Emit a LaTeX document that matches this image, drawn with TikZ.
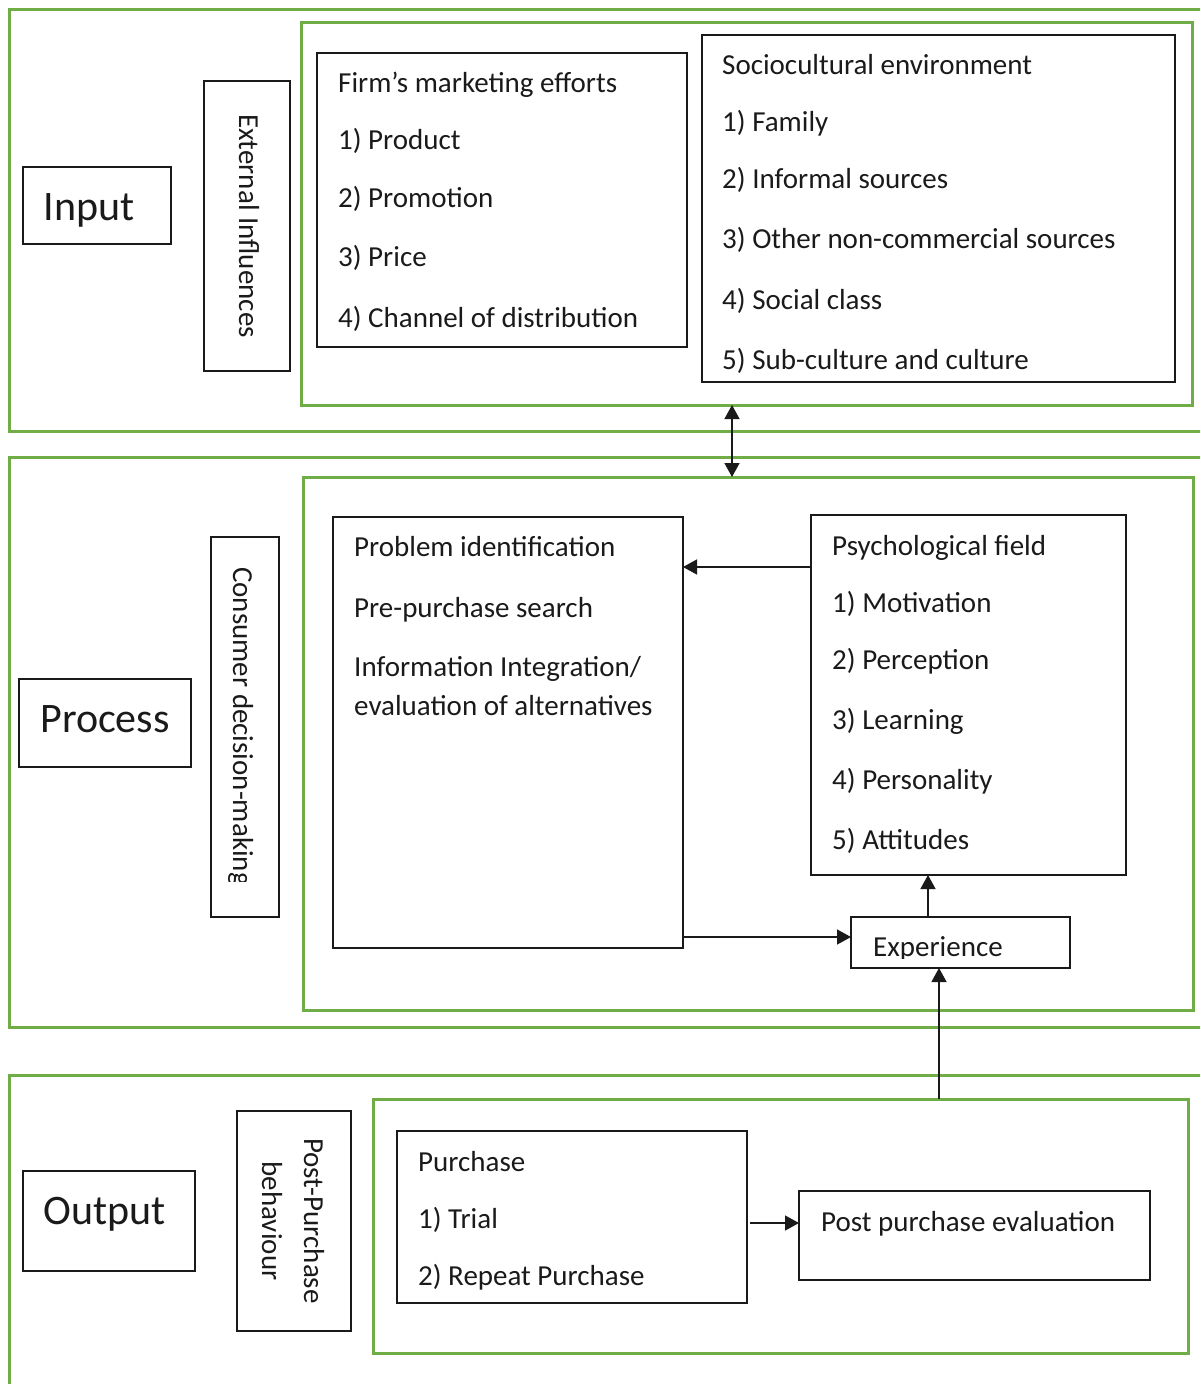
\documentclass[tikz,border=0pt]{standalone}
\usepackage{fontspec}
\setmainfont{Carlito}
\usetikzlibrary{arrows.meta}
\definecolor{panelgreen}{HTML}{70AD47}
\definecolor{ink}{HTML}{1A1A1A}

\begin{document}
\begin{tikzpicture}[x=1pt,y=-1pt,
  panel/.style={draw=panelgreen,line width=3pt,anchor=north west,inner sep=0pt,outer sep=0pt},
  box/.style={draw=ink,line width=1.4pt,anchor=north west,inner sep=0pt,outer sep=0pt},
  item/.style={anchor=base west,inner sep=0pt,text=ink,font=\fontsize{29}{39}\selectfont},
  side/.style={inner sep=0pt,text=ink,rotate=-90,align=center,font=\fontsize{29}{42}\selectfont},
  stage/.style={anchor=base,inner sep=0pt,text=ink,font=\fontsize{42}{50}\selectfont},
  link/.style={draw=ink,line width=1.4pt,-{Triangle[length=14pt,width=15pt]}},
  both/.style={draw=ink,line width=1.4pt,{Triangle[length=14pt,width=15pt]}-{Triangle[length=14pt,width=15pt]}},
]
\useasboundingbox (0,0) rectangle (1200,1384);
\clip (0,0) rectangle (1200,1384);

% ---------- Input ----------
\node[panel,minimum width=1206pt,minimum height=422pt] (inpanel) at (9,9) {};
\node[panel,minimum width=891pt,minimum height=383pt] (ininner) at (301,22) {};
\node[box,minimum width=148pt,minimum height=77pt] (inlabel) at (23,167) {};
\node[stage] (intext) at (89,220) {Input};
\node[box,minimum width=86pt,minimum height=290pt] (extinf) at (204,81) {};
\node[side] (exttext) at (249,226) {External Influences};

\node[box,minimum width=370pt,minimum height=294pt] (firm) at (317,53) {};
\node[item] (f0) at (338,92) {Firm’s marketing efforts};
\node[item] (f1) at (338,149) {1) Product};
\node[item] (f2) at (338,207) {2) Promotion};
\node[item] (f3) at (338,266) {3) Price};
\node[item] (f4) at (338,327) {4) Channel of distribution};

\node[box,minimum width=473pt,minimum height=347pt] (socio) at (702,35) {};
\node[item] (s0) at (722,74) {Sociocultural environment};
\node[item] (s1) at (722,131) {1) Family};
\node[item] (s2) at (722,188) {2) Informal sources};
\node[item] (s3) at (722,248) {3) Other non-commercial sources};
\node[item] (s4) at (722,309) {4) Social class};
\node[item] (s5) at (722,369) {5) Sub-culture and culture};

% ---------- Process ----------
\node[panel,minimum width=1206pt,minimum height=570pt] (prpanel) at (9,457) {};
\node[panel,minimum width=890pt,minimum height=533pt] (prinner) at (303,477) {};
\node[box,minimum width=172pt,minimum height=88pt] (prlabel) at (19,679) {};
\node[stage] (prtext) at (105,732) {Process};
\node[box,minimum width=68pt,minimum height=380pt] (cdm) at (211,537) {};
\begin{scope}
  \clip (212,538) rectangle (278,881);
  \node[side,anchor=base west] (cdmtext) at (233,567) {Consumer decision-making};
\end{scope}

\node[box,minimum width=350pt,minimum height=431pt] (problem) at (333,517) {};
\node[item] (p0) at (354,556) {Problem identification};
\node[item] (p1) at (354,617) {Pre-purchase search};
\node[item] (p2) at (354,676) {Information Integration/};
\node[item] (p3) at (354,715) {evaluation of alternatives};

\node[box,minimum width=315pt,minimum height=360pt] (psych) at (811,515) {};
\node[item] (q0) at (832,555) {Psychological field};
\node[item] (q1) at (832,612) {1) Motivation};
\node[item] (q2) at (832,669) {2) Perception};
\node[item] (q3) at (832,729) {3) Learning};
\node[item] (q4) at (832,789) {4) Personality};
\node[item] (q5) at (832,849) {5) Attitudes};

\node[box,minimum width=219pt,minimum height=51pt] (exper) at (851,917) {};
\begin{scope}
  \clip (852,918) rectangle (1069,958);
  \node[item] (extext) at (873,956) {Experience};
\end{scope}

% ---------- Output ----------
\node[panel,minimum width=1206pt,minimum height=330pt] (outpanel) at (9,1075) {};
\node[box,minimum width=172pt,minimum height=100pt] (outlabel) at (23,1171) {};
\node[stage] (outtext) at (105,1224) {Output};
\node[box,minimum width=114pt,minimum height=220pt] (ppb) at (237,1111) {};
\node[side] (ppbtext) at (293,1221) {Post-Purchase\\behaviour};

\node[panel,minimum width=815pt,minimum height=254pt] (outinner) at (373,1099) {};
\node[box,minimum width=350pt,minimum height=172pt] (purchase) at (397,1131) {};
\node[item] (u0) at (418,1171) {Purchase};
\node[item] (u1) at (418,1228) {1) Trial};
\node[item] (u2) at (418,1285) {2) Repeat Purchase};

\node[box,minimum width=351pt,minimum height=89pt] (ppe) at (799,1191) {};
\node[item] (ppetext) at (821,1231) {Post purchase evaluation};

% ---------- Connectors ----------
\coordinate (xio) at (732,0);
\coordinate (yps) at (0,567);
\coordinate (ypx) at (0,937);
\coordinate (xep) at (928,0);
\coordinate (xoe) at (939,0);
\coordinate (ypu) at (0,1223);

\draw[both] (ininner.south -| xio) -- (prinner.north -| xio);
\draw[link] (psych.west |- yps) -- (problem.east |- yps);
\draw[link] (problem.east |- ypx) -- (exper.west |- ypx);
\draw[link] (exper.north -| xep) -- (psych.south -| xep);
\draw[link] (outinner.north -| xoe) -- (exper.south -| xoe);
\draw[link] ([xshift=3pt]purchase.east |- ypu) -- (ppe.west |- ypu);
\end{tikzpicture}
\end{document}
